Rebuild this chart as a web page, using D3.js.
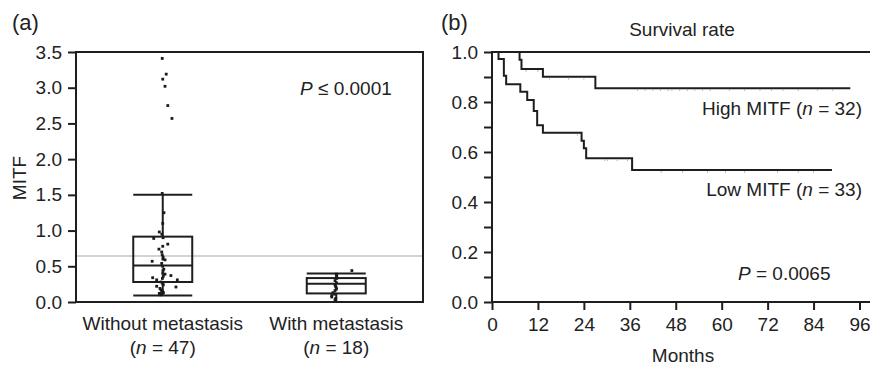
<!DOCTYPE html>
<html>
<head>
<meta charset="utf-8">
<script src="https://cdn.jsdelivr.net/npm/d3@7/dist/d3.min.js"></script>
<style>
  html, body { margin: 0; padding: 0; background: #fff; }
  svg { display: block; }
  text { font-family: "Liberation Sans", Arial, Helvetica, sans-serif; fill: #222; }
</style>
</head>
<body>
<svg id="chart" width="870" height="365"></svg>
<script>
// ---------- Panel (a) data ----------
const categories = ["Without metastasis", "With metastasis"];
const categoryN = [47, 18];
const whiskerLow = [0.09, 0.0];
const q1 = [0.28, 0.12];
const median = [0.51, 0.255];
const q3 = [0.915, 0.335];
const whiskerHigh = [1.5, 0.40];
const cutoffValue = 0.645;
const yTicksA = [0, 0.5, 1.0, 1.5, 2.0, 2.5, 3.0, 3.5];

// individual points (value, jitter as fraction of category band)
const group1Values = [3.41, 3.19, 3.12, 3.02, 2.75, 2.57,
  1.52, 1.25, 1.10, 0.98, 0.95, 0.89, 0.81, 0.74, 0.70, 0.66, 0.59, 0.57, 0.54, 0.46,
  0.40, 0.39, 0.37, 0.34, 0.31, 0.31, 0.28, 0.22, 0.21, 0.19, 0.17, 0.12, 0.14, 0.10,
  0.78, 0.63, 0.50, 0.44, 0.36, 0.33, 0.26, 0.24, 0.15, 0.13, 0.11, 0.90, 0.60];
const group1Jitter = [-0.003, 0.020, 0.000, 0.013, 0.029, 0.053,
  -0.003, 0.007, 0.000, -0.020, -0.005, -0.052, 0.029, -0.022, -0.006, -0.003, 0.013, -0.061, -0.006, 0.006,
  0.000, 0.013, 0.047, -0.058, -0.035, 0.084, -0.010, -0.035, 0.076, -0.016, -0.010, -0.020, -0.006, -0.012,
  0.000, 0.002, -0.001, 0.001, 0.003, -0.002, 0.000, 0.003, -0.001, 0.004, -0.008, 0.002, 0.001];
const group2Values = [0.44, 0.39, 0.37, 0.33, 0.30, 0.24, 0.20, 0.16, 0.13, 0.09, 0.07, 0.05, 0.03,
  0.35, 0.27, 0.22, 0.18, 0.11];
const group2Jitter = [0.090, 0.000, 0.003, 0.003, -0.007, -0.007, 0.000, -0.007, -0.019, -0.026, -0.026, -0.003, -0.007,
  0.002, 0.001, -0.004, 0.001, -0.010];

// ---------- Panel (b) data ----------
const highTimes = [0, 7.2, 7.7, 13.3, 27.0, 93.6];
const highSurv = [1, 0.969, 0.932, 0.901, 0.855, 0.855];
const lowTimes = [0, 1.7, 3.1, 3.7, 7.4, 9.2, 10.9, 11.8, 13.3, 23.4, 24.0, 24.6, 36.6, 88.8];
const lowSurv = [1, 0.972, 0.905, 0.871, 0.841, 0.808, 0.764, 0.707, 0.677, 0.645, 0.615, 0.575, 0.528, 0.528];
const highCensor = [8.9, 12.0, 15.0, 20.0, 24.0, 38, 40, 42, 44, 46, 47, 49, 51, 53, 55, 57, 62, 66, 70, 73, 76, 80, 85, 89];
const lowCensor = [22.3, 29.5, 30.2, 32.7, 35.4, 44.2, 49.8, 56.3, 61, 66, 74.6, 80, 84];
const monthTicks = [0, 12, 24, 36, 48, 60, 72, 84, 96];
const survTicks = [0, 0.1, 0.2, 0.3, 0.4, 0.5, 0.6, 0.7, 0.8, 0.9, 1.0];

const ink = "#1e1e1e";
const svg = d3.select("#chart");
svg.append("rect").attr("width", 870).attr("height", 365).attr("fill", "#fff");

// ================= Panel (a) =================
const aLeft = 76, aRight = 423, plotTop = 52, plotBottom = 302;
const xA = d3.scaleBand().domain(categories).range([aLeft, aRight]).padding(0);
const yA = d3.scaleLinear().domain([0, 3.5]).range([plotBottom, plotTop]);
const bw = xA.bandwidth();
const boxW = bw * 0.34;

const gA = svg.append("g");
gA.append("text").attr("x", 12).attr("y", 30).attr("font-size", 22).text("(a)");

// cutoff grey line
gA.append("line").attr("x1", aLeft).attr("x2", aRight)
  .attr("y1", yA(cutoffValue)).attr("y2", yA(cutoffValue))
  .attr("stroke", "#c4c4c4").attr("stroke-width", 1.6);

// y axis
const axA = gA.append("g").attr("transform", `translate(${aLeft},0)`)
  .call(d3.axisLeft(yA).tickValues(yTicksA).tickSize(8).tickPadding(6).tickFormat(d3.format(".1f")));
axA.select(".domain").remove();
axA.selectAll(".tick line").attr("stroke", ink).attr("stroke-width", 2);
axA.selectAll(".tick text").attr("font-size", 19).attr("fill", "#222")
  .attr("font-family", "Liberation Sans, Arial, sans-serif");

// frame
gA.append("rect").attr("x", aLeft).attr("y", plotTop).attr("width", aRight - aLeft).attr("height", plotBottom - plotTop)
  .attr("fill", "none").attr("stroke", ink).attr("stroke-width", 2);

// axis title
gA.append("text").attr("transform", `translate(26,178) rotate(-90)`)
  .attr("text-anchor", "middle").attr("font-size", 19).text("MITF");

// boxes
categories.forEach((c, i) => {
  const cx = xA(c) + bw / 2;
  const g = gA.append("g");
  function ln(x1, y1, x2, y2) {
    g.append("line").attr("x1", x1).attr("y1", y1).attr("x2", x2).attr("y2", y2)
      .attr("stroke", ink).attr("stroke-width", 2);
  }
  ln(cx, yA(whiskerHigh[i]), cx, yA(q3[i]));
  ln(cx, yA(q1[i]), cx, yA(whiskerLow[i]));
  ln(cx - boxW / 2, yA(whiskerHigh[i]), cx + boxW / 2, yA(whiskerHigh[i]));
  ln(cx - boxW / 2, yA(whiskerLow[i]), cx + boxW / 2, yA(whiskerLow[i]));
  g.append("rect").attr("x", cx - boxW / 2).attr("y", yA(q3[i]))
    .attr("width", boxW).attr("height", yA(q1[i]) - yA(q3[i]))
    .attr("fill", "none").attr("stroke", ink).attr("stroke-width", 2);
  ln(cx - boxW / 2, yA(median[i]), cx + boxW / 2, yA(median[i]));
});

// points
const pts = [];
group1Values.forEach((v, k) => pts.push({ c: categories[0], v, j: group1Jitter[k] }));
group2Values.forEach((v, k) => pts.push({ c: categories[1], v, j: group2Jitter[k] }));
gA.append("g").selectAll("rect").data(pts).join("rect")
  .attr("x", d => xA(d.c) + bw / 2 + d.j * bw - 1.4)
  .attr("y", d => yA(d.v) - 1.4)
  .attr("width", 2.8).attr("height", 2.8).attr("fill", "#1a1a1a");

// category labels
categories.forEach((c, i) => {
  const cx = xA(c) + bw / 2;
  gA.append("text").attr("x", cx).attr("y", 330).attr("text-anchor", "middle")
    .attr("font-size", 19).text(c);
  const t = gA.append("text").attr("x", cx).attr("y", 354).attr("text-anchor", "middle").attr("font-size", 19);
  t.append("tspan").text("(");
  t.append("tspan").attr("font-style", "italic").text("n");
  t.append("tspan").text(" = " + categoryN[i] + ")");
});

// P value
const pA = gA.append("text").attr("x", 300).attr("y", 95).attr("font-size", 19);
pA.append("tspan").attr("font-style", "italic").text("P");
pA.append("tspan").text(" \u2264 0.0001");

// ================= Panel (b) =================
const bLeft = 492;
const xB = d3.scaleLinear().domain([0, 96]).range([bLeft, 859.5]);
const yB = d3.scaleLinear().domain([0, 1]).range([plotBottom, plotTop]);
const gB = svg.append("g");

gB.append("text").attr("x", 441).attr("y", 30).attr("font-size", 22).text("(b)");
gB.append("text").attr("x", 682).attr("y", 36).attr("text-anchor", "middle").attr("font-size", 19).text("Survival rate");

// top reference line at 1.0
gB.append("line").attr("x1", bLeft).attr("x2", 870).attr("y1", yB(1)).attr("y2", yB(1))
  .attr("stroke", ink).attr("stroke-width", 2);

// y axis
const ayB = gB.append("g").attr("transform", `translate(${bLeft},0)`)
  .call(d3.axisLeft(yB).tickValues(survTicks).tickSize(8).tickPadding(6)
    .tickFormat(d => (Math.round(d * 10) % 2 === 0) ? d3.format(".1f")(d) : ""));
ayB.select(".domain").remove();
ayB.selectAll(".tick line").attr("stroke", ink).attr("stroke-width", 2);
ayB.selectAll(".tick text").attr("font-size", 19).attr("fill", "#222")
  .attr("font-family", "Liberation Sans, Arial, sans-serif");
gB.append("line").attr("x1", bLeft).attr("x2", bLeft).attr("y1", plotTop - 1).attr("y2", plotBottom + 1)
  .attr("stroke", ink).attr("stroke-width", 2);

// x axis
const axB = gB.append("g").attr("transform", `translate(0,${plotBottom})`)
  .call(d3.axisBottom(xB).tickValues(monthTicks).tickSize(8).tickPadding(8));
axB.select(".domain").remove();
axB.selectAll(".tick line").attr("stroke", ink).attr("stroke-width", 2);
axB.selectAll(".tick text").attr("font-size", 19).attr("fill", "#222")
  .attr("font-family", "Liberation Sans, Arial, sans-serif");
gB.append("line").attr("x1", bLeft - 1).attr("x2", 870).attr("y1", plotBottom).attr("y2", plotBottom)
  .attr("stroke", ink).attr("stroke-width", 2);

gB.append("text").attr("x", 683).attr("y", 362).attr("text-anchor", "middle").attr("font-size", 19).text("Months");

// KM curves
const step = d3.line().x(d => xB(d[0])).y(d => yB(d[1])).curve(d3.curveStepAfter);
const highData = highTimes.map((t, i) => [t, highSurv[i]]);
const lowData = lowTimes.map((t, i) => [t, lowSurv[i]]);
[highData, lowData].forEach(d => {
  gB.append("path").attr("d", step(d)).attr("fill", "none")
    .attr("stroke", ink).attr("stroke-width", 2);
});

// censor marks
function survAt(times, surv, t) {
  let s = surv[0];
  for (let i = 0; i < times.length; i++) if (times[i] <= t) s = surv[i];
  return s;
}
function censor(times, surv, list) {
  gB.append("g").selectAll("line").data(list).join("line")
    .attr("x1", t => xB(t)).attr("x2", t => xB(t))
    .attr("y1", t => yB(survAt(times, surv, t)) + 1)
    .attr("y2", t => yB(survAt(times, surv, t)) + 2.8)
    .attr("stroke", "#b4b4b4").attr("stroke-width", 1);
}
censor(highTimes, highSurv, highCensor);
censor(lowTimes, lowSurv, lowCensor);

// labels
function groupLabel(y, name, n) {
  const t = gB.append("text").attr("x", 862).attr("y", y).attr("text-anchor", "end").attr("font-size", 19);
  t.append("tspan").text(name + " (");
  t.append("tspan").attr("font-style", "italic").text("n");
  t.append("tspan").text(" = " + n + ")");
}
groupLabel(115, "High MITF", 32);
groupLabel(196, "Low MITF", 33);

const pB = gB.append("text").attr("x", 738).attr("y", 280).attr("font-size", 19);
pB.append("tspan").attr("font-style", "italic").text("P");
pB.append("tspan").text(" = 0.0065");
</script>
</body>
</html>
